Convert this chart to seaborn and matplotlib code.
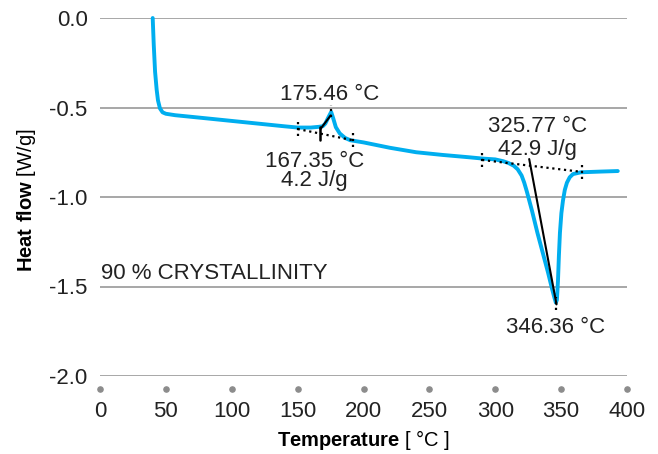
import numpy as np
import matplotlib
matplotlib.use("Agg")
import matplotlib.pyplot as plt
import seaborn as sns
import pandas as pd

# ---- data ----
temperature = [40.0, 40.8, 41.8, 43.0, 44.0, 45.5, 47.5, 50, 57, 80, 100, 120, 140, 150, 160, 166,
               169, 171, 173, 175.46, 177, 179, 182, 186, 190, 200, 220, 240, 260, 280, 290,
               300, 306, 310, 314, 317, 320, 322, 324, 328, 332, 336, 340, 343, 345, 346.0,
               346.8, 347.6, 348.3, 349.1, 350.2, 351.4, 352.8, 354.4, 356.5, 359, 365, 380, 393]
heat_flow = [0.0, -0.15, -0.30, -0.40, -0.46, -0.505, -0.527, -0.535, -0.543, -0.56, -0.575,
             -0.59, -0.605, -0.612, -0.612, -0.608, -0.605, -0.59, -0.56, -0.525, -0.56, -0.61,
             -0.645, -0.67, -0.683, -0.695, -0.725, -0.75, -0.765, -0.778, -0.785, -0.79,
             -0.80, -0.81, -0.825, -0.845, -0.88, -0.92, -0.97, -1.08, -1.2, -1.31, -1.42,
             -1.51, -1.565, -1.59, -1.575, -1.47, -1.33, -1.20, -1.09, -1.02, -0.96, -0.92,
             -0.89, -0.872, -0.862, -0.858, -0.855]

x_ticks = [0, 50, 100, 150, 200, 250, 300, 350, 400]
y_ticks = [0.0, -0.5, -1.0, -1.5, -2.0]

# thermal events
onset_temps = [167.35, 325.77]
peak_temps = [175.46, 346.36]
enthalpies = [4.2, 42.9]
baseline_start = [(150, -0.62), (290, -0.793)]
baseline_end = [(192, -0.683), (366, -0.86)]
onset_top = [(167.35, -0.62), (325.77, -0.788)]
tangent_end = [(175.0, -0.545), (346.5, -1.60)]
peak_values = [-0.52, -1.595]
crystallinity = "90 % CRYSTALLINITY"

# ---- style ----
sns.set_theme(style="white")
plt.rcParams['font.family'] = ['Liberation Sans', 'DejaVu Sans']
plt.rcParams['mathtext.fontset'] = 'custom'
plt.rcParams['mathtext.rm'] = 'Liberation Sans'
plt.rcParams['mathtext.bf'] = 'Liberation Sans:bold'

txt = '#222222'
blue = '#00AEEF'

fig = plt.figure(figsize=(6.58, 4.54), dpi=100)
ax = fig.add_axes([100/658, 1-376/454, 527/658, 358/454])

df = pd.DataFrame({"T": temperature, "Q": heat_flow})
sns.lineplot(data=df, x="T", y="Q", sort=False, estimator=None, color=blue, lw=2.8,
             ax=ax, clip_on=False, zorder=3, solid_joinstyle='round')
ax.set_xlabel("")
ax.set_ylabel("")

ax.set_xlim(0, 400)
ax.set_ylim(-2.0, 0.0)
ax.set_yticks(y_ticks)
ax.set_yticklabels([f"{v:.1f}" for v in y_ticks])
ax.set_xticks(x_ticks)
ax.set_xticklabels([str(v) for v in x_ticks])
ax.grid(axis='y', color='#a0a0a0', lw=1.3)
ax.grid(axis='x', visible=False)
for s in ax.spines.values():
    s.set_visible(False)
ax.tick_params(axis='y', length=0, pad=9, labelsize=16, labelcolor=txt)
ax.tick_params(axis='x', length=0, pad=18, labelsize=16, labelcolor=txt)

# tick dots
ax.scatter(x_ticks, [-2.075]*len(x_ticks), s=14, color='#8c8c8c', clip_on=False, zorder=3)

# event annotations
for i in range(2):
    (x0, y0), (x1, y1) = baseline_start[i], baseline_end[i]
    ax.plot([x0, x1], [y0, y1], color='black', ls=':', lw=1.6, zorder=4)
    ax.plot([x0, x0], [y0 - 0.04, y0 + 0.04], color='black', ls=':', lw=1.6, zorder=4)
    ax.plot([x1, x1], [y1 - 0.04, y1 + 0.04], color='black', ls=':', lw=1.6, zorder=4)
    ax.plot([peak_temps[i]]*2, [peak_values[i] - 0.035, peak_values[i] + 0.035],
            color='black', ls=':', lw=1.6, zorder=4)
    (ox, oy), (tx, ty) = onset_top[i], tangent_end[i]
    ax.plot([ox, tx], [oy, ty], color='black', lw=1.5, zorder=4)

# small vertical onset tick for first peak
ax.plot([onset_temps[0]]*2, [-0.61, -0.68], color='black', lw=1.8, zorder=4)

fs = 16
ax.text(174.6, -0.458, f"{peak_temps[0]:.2f} °C", ha='center', va='baseline', fontsize=fs, color=txt)
ax.text(163, -0.832, f"{onset_temps[0]:.2f} °C", ha='center', va='baseline', fontsize=fs, color=txt)
ax.text(163, -0.939, f"{enthalpies[0]:.1f} J/g", ha='center', va='baseline', fontsize=fs, color=txt)
ax.text(332.4, -0.637, f"{onset_temps[1]:.2f} °C", ha='center', va='baseline', fontsize=fs, color=txt)
ax.text(332.4, -0.765, f"{enthalpies[1]:.1f} J/g", ha='center', va='baseline', fontsize=fs, color=txt)
ax.text(345.4, -1.76, f"{peak_temps[1]:.2f} °C", ha='center', va='baseline', fontsize=fs, color=txt)
ax.text(0.8, -1.458, crystallinity, ha='left', va='baseline', fontsize=16, color=txt)

fig.text(364/658, 1-440/454, r"$\mathbf{Temperature}$ [ °C ]", ha='center', va='center',
         fontsize=14.5, color='black')
fig.text(27/658, 1-200/454, r"$\mathbf{Heat\ flow}$ [W/g]", ha='center', va='center',
         rotation=90, fontsize=14.5, color='black')

fig.savefig("out.png", dpi=100)
